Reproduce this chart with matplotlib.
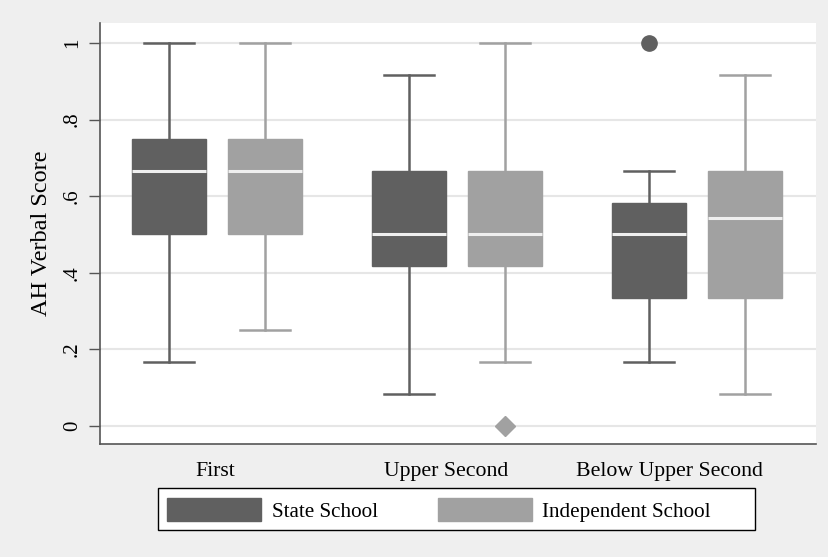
import matplotlib
matplotlib.use("Agg")
import matplotlib.pyplot as plt
from matplotlib.patches import Patch, Rectangle
from matplotlib.transforms import ScaledTranslation

plt.rcParams['font.family'] = ['Liberation Serif', 'DejaVu Serif']

groups = ["First", "Upper Second", "Below Upper Second"]
series = ["State School", "Independent School"]

# five-number summaries, per group
state_low = [1/6, 1/12, 1/6]
state_q1 = [0.5, 5/12, 1/3]
state_med = [2/3, 0.5, 0.5]
state_q3 = [0.75, 2/3, 7/12]
state_high = [1.0, 11/12, 2/3]
state_out = [[], [], [1.0]]

indep_low = [0.25, 1/6, 1/12]
indep_q1 = [0.5, 5/12, 1/3]
indep_med = [2/3, 0.5, 13/24]
indep_q3 = [0.75, 2/3, 2/3]
indep_high = [1.0, 1.0, 11/12]
indep_out = [[], [0.0], []]

yticks = [0, 0.2, 0.4, 0.6, 0.8, 1.0]
ytick_labels = ["0", ".2", ".4", ".6", ".8", "1"]

dark = "#606060"
light = "#a1a1a1"

# stata puts the group labels a bit left of the group centre (pixels)
label_shift = [-1.5, -10.5, -28]


def make_stats(low, q1, med, q3, high, out):
    stats = []
    for i in range(len(low)):
        stats.append(dict(whislo=low[i], q1=q1[i], med=med[i], q3=q3[i],
                          whishi=high[i], fliers=out[i]))
    return stats


fig = plt.figure(figsize=(8.29, 5.57), dpi=100, facecolor="#efefef")
ax = fig.add_axes([100/829, 1 - 444/557, 716/829, 421/557])
ax.set_facecolor("white")

for stats, col, off, mk in [
        (make_stats(state_low, state_q1, state_med, state_q3, state_high, state_out), dark, -0.2, "o"),
        (make_stats(indep_low, indep_q1, indep_med, indep_q3, indep_high, indep_out), light, 0.2, "D")]:
    pos = [i + off for i in range(len(groups))]
    ax.bxp(stats, positions=pos, widths=0.305, patch_artist=True,
           showfliers=True, manage_ticks=False,
           boxprops=dict(facecolor=col, edgecolor=col, linewidth=1),
           medianprops=dict(color="#efefef", linewidth=2.2),
           whiskerprops=dict(color=col, linewidth=1.8),
           capprops=dict(color=col, linewidth=1.8),
           capwidths=0.21,
           flierprops=dict(marker=mk, markerfacecolor=col, markeredgecolor=col,
                           markersize=11 if mk == "o" else 10))

ax.set_xlim(-0.4875, 2.496)
ax.set_ylim(-0.047, 1.052)
ax.set_yticks(yticks)
ax.set_yticklabels(ytick_labels, rotation=90, va="center", fontsize=15)
ax.set_xticks([])
for i, (g, dx) in enumerate(zip(groups, label_shift)):
    tr = ax.get_xaxis_transform() + ScaledTranslation(dx / 100, -13 / 72, fig.dpi_scale_trans)
    ax.text(i, 0, g, transform=tr, ha="center", va="top", fontsize=15.7)
ax.tick_params(axis="y", length=8, width=1, color="#555555", pad=5)
ax.grid(axis="y", color="#e6e6e6", linewidth=1.5)
ax.set_axisbelow(True)
ax.set_ylabel("AH Verbal Score", fontsize=17.5, labelpad=8)

for s in ["top", "right"]:
    ax.spines[s].set_visible(False)
for s in ["left", "bottom"]:
    ax.spines[s].set_color("#555555")
    ax.spines[s].set_linewidth(1.2)

# legend frame is wider on the right than the entries need, as in stata
fig.patches.append(Rectangle((158/829, 1 - 530/557), 597/829, 42/557,
                             transform=fig.transFigure, facecolor="white",
                             edgecolor="black", linewidth=1, zorder=1))
handles = [Patch(facecolor=dark, edgecolor=dark), Patch(facecolor=light, edgecolor=light)]
leg = fig.legend(handles, series, loc="center left", bbox_to_anchor=(167/829, 1 - 510/557),
                 ncol=2, fontsize=15.2, frameon=False,
                 handlelength=4.45, handleheight=1.25, columnspacing=2.85,
                 handletextpad=0.5, borderpad=0, borderaxespad=0)
leg.set_zorder(2)

fig.savefig("out.png", dpi=100, facecolor=fig.get_facecolor())
